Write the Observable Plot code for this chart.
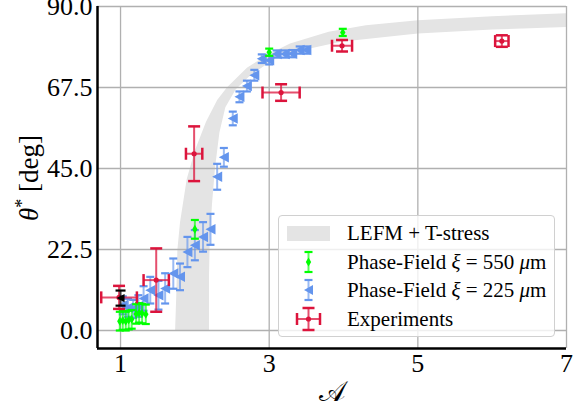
<!DOCTYPE html>
<html><head><meta charset="utf-8">
<script src="https://cdn.jsdelivr.net/npm/d3@7"></script>
<script src="https://cdn.jsdelivr.net/npm/@observablehq/plot@0.6"></script>
<style>
body{margin:0;background:#fff;}
#wrap{position:relative;width:578px;height:408px;font-family:"Liberation Serif",serif;}
#legend{position:absolute;left:278px;top:215px;width:277px;height:122px;border:1px solid #d0d0d0;border-radius:4px;background:rgba(255,255,255,0.8);box-sizing:border-box;}
.row{position:absolute;left:0;height:28px;display:flex;align-items:center;font-size:21px;color:#000;white-space:nowrap;}
.row svg{width:68px;height:28px;flex:none;}
.row span{margin-left:0;}
i{font-style:italic;}
</style></head><body><div id="wrap"></div>
<script>
// ---- data ----
const xTicks = [1, 3, 5, 7];
const yTicks = [0, 22.5, 45, 67.5, 90];
const xDomain = [0.69, 7];
const yDomain = [-5, 90];

// LEFM + T-stress band: upper (left) boundary and lower (right) boundary
const bandUpperA = [1.734, 1.75, 1.765, 1.80, 1.89, 2.0, 2.15, 2.3, 2.43, 2.7, 2.97, 3.28, 3.8, 4.3, 5.0, 6.0, 7.0];
const bandUpperT = [0, 10, 22.5, 30, 42, 50, 58, 64, 67.5, 73, 76.5, 79.7, 83.0, 84.8, 86.2, 87.3, 88.1];
const bandLowerA = [2.19, 2.19, 2.20, 2.23, 2.27, 2.33, 2.41, 2.55, 2.75, 3.15, 3.96, 5.0, 6.0, 7.0];
const bandLowerT = [0, 15, 25, 35, 45, 55, 62, 67, 71, 76.5, 80.2, 82.5, 83.6, 84.3];

// Experiments
const expA = [0.98, 1.48, 1.99, 3.16, 3.98, 6.13];
const expT = [9.2, 14.0, 49.1, 66.1, 79.1, 80.4];
const expXErr = [0.24, 0.17, 0.11, 0.25, 0.135, 0.09];
const expYErr = [3.2, 8.8, 7.6, 2.3, 1.6, 1.6];

// black reference point
const refA = [1.0];
const refT = [9.0];
const refErr = [2.1];

// Phase-Field xi = 550 um
const pf550A = [0.99, 1.03, 1.07, 1.11, 1.15, 1.21, 1.25, 1.29, 1.34, 2.0, 3.0, 3.99];
const pf550T = [2.6, 2.8, 2.6, 2.9, 3.1, 4.6, 4.9, 4.7, 4.5, 28.1, 77.3, 82.8];
const pf550Err = [2.6, 2.6, 2.6, 2.6, 2.6, 2.7, 2.7, 2.7, 2.7, 2.6, 1.0, 1.0];

// Phase-Field xi = 225 um
const pf225A = [1.03, 1.10, 1.17, 1.24, 1.31, 1.40, 1.51, 1.60, 1.71, 1.80, 1.90, 2.00, 2.11, 2.21, 2.30, 2.39, 2.51, 2.60, 2.70, 2.80, 2.90, 3.00, 3.10, 3.21, 3.31, 3.41, 3.50];
const pf225T = [7.0, 6.3, 6.0, 6.8, 8.9, 11.2, 9.8, 11.7, 15.8, 14.9, 21.8, 23.7, 26.0, 28.1, 42.7, 48.1, 58.9, 64.9, 67.9, 70.9, 75.5, 75.1, 76.8, 76.8, 76.9, 77.9, 77.9];
const pf225Err = [2.5, 2.5, 2.5, 3.0, 3.4, 3.7, 4.0, 4.2, 4.2, 3.7, 4.2, 4.2, 4.1, 4.3, 3.6, 2.6, 1.9, 1.5, 1.5, 1.5, 1.2, 1.2, 1.0, 1.0, 1.0, 1.0, 1.0];

// ---- build tables ----
const band = bandUpperA.map((a, i) => ({a, t: bandUpperT[i]}))
  .concat(bandLowerA.map((a, i) => ({a, t: bandLowerT[i]})).reverse());
const exp = expA.map((a, i) => ({a, t: expT[i], ex: expXErr[i], ey: expYErr[i]}));
const ref = refA.map((a, i) => ({a, t: refT[i], e: refErr[i]}));
const pf550 = pf550A.map((a, i) => ({a, t: pf550T[i], e: pf550Err[i]}));
const pf225 = pf225A.map((a, i) => ({a, t: pf225T[i], e: pf225Err[i]}));

// ---- custom symbols ----
const rr = s => Math.sqrt(s / Math.PI);
const hbar = {draw(c, s) { const r = rr(s); c.moveTo(-r, 0); c.lineTo(r, 0); }};
const vbar = {draw(c, s) { const r = rr(s); c.moveTo(0, -r); c.lineTo(0, r); }};
const triLeft = {draw(c, s) { const r = rr(s); c.moveTo(-r, 0); c.lineTo(r, -r * 1.05); c.lineTo(r, r * 1.05); c.closePath(); }};
const thinDiamond = {draw(c, s) { const r = rr(s); c.moveTo(0, -r); c.lineTo(r * 0.6, 0); c.lineTo(0, r); c.lineTo(-r * 0.6, 0); c.closePath(); }};

const BLUE = "#6495ed", GREEN = "#00ff00", RED = "#dc143c", BAND = "#e4e4e4", GRID = "#b0b0b0";

function vErr(data, color, capR, sym, symR, opts = {}) {
  return [
    Plot.ruleX(data, {x: "a", y1: d => d.t - d.e, y2: d => d.t + d.e, stroke: color, strokeWidth: 2, strokeOpacity: 0.65}),
    Plot.dot(data, {x: "a", y: d => d.t - d.e, symbol: hbar, r: capR, stroke: color, strokeWidth: 2.2}),
    Plot.dot(data, {x: "a", y: d => d.t + d.e, symbol: hbar, r: capR, stroke: color, strokeWidth: 2.2}),
    Plot.dot(data, {x: "a", y: "t", symbol: sym, r: symR, fill: color, stroke: "none", ...opts})
  ];
}

const chart = Plot.plot({
  width: 578, height: 408,
  marginLeft: 97, marginRight: 12, marginTop: 6, marginBottom: 60,
  x: {domain: xDomain},
  y: {domain: yDomain},
  style: {fontFamily: "'Liberation Serif', serif", background: "transparent", overflow: "visible"},
  marks: [
    Plot.line(band, {x: "a", y: "t", fill: BAND, stroke: "none", clip: true}),
    Plot.gridX(xTicks, {stroke: GRID, strokeOpacity: 1, strokeWidth: 1.3}),
    Plot.gridY(yTicks, {stroke: GRID, strokeOpacity: 1, strokeWidth: 1.3}),
    Plot.axisX(xTicks, {tickSize: 0, tickPadding: 5, fontSize: 26, fill: "#000", label: null}),
    Plot.axisY(yTicks, {tickSize: 0, tickPadding: 5, fontSize: 26, fill: "#000", label: null, tickFormat: d => d.toFixed(1)}),
    ...vErr(pf225, BLUE, 4, triLeft, 5),
    ...vErr(pf550, GREEN, 4, thinDiamond, 4.5),
    // experiments: horizontal + vertical error bars
    Plot.ruleY(exp, {y: "t", x1: d => d.a - d.ex, x2: d => d.a + d.ex, stroke: RED, strokeWidth: 2, strokeOpacity: 0.75}),
    Plot.ruleX(exp, {x: "a", y1: d => d.t - d.ey, y2: d => d.t + d.ey, stroke: RED, strokeWidth: 2, strokeOpacity: 0.75}),
    Plot.dot(exp, {x: d => d.a - d.ex, y: "t", symbol: vbar, r: 6, stroke: RED, strokeWidth: 2.5}),
    Plot.dot(exp, {x: d => d.a + d.ex, y: "t", symbol: vbar, r: 6, stroke: RED, strokeWidth: 2.5}),
    Plot.dot(exp, {x: "a", y: d => d.t - d.ey, symbol: hbar, r: 6, stroke: RED, strokeWidth: 2.5}),
    Plot.dot(exp, {x: "a", y: d => d.t + d.ey, symbol: hbar, r: 6, stroke: RED, strokeWidth: 2.5}),
    Plot.dot(exp, {x: "a", y: "t", r: 2.6, fill: RED, stroke: "none"}),
    // black point
    ...vErr(ref, "#000", 5, triLeft, 4),
    // axis lines (left & bottom)
    Plot.ruleX([xDomain[0]], {stroke: "#000", strokeWidth: 2.5}),
    Plot.ruleY([yDomain[0]], {stroke: "#000", strokeWidth: 2.5})
  ]
});

const wrap = document.getElementById("wrap");
wrap.appendChild(chart);

// axis titles
const svg = d3.select(chart);
const yl = svg.append("text")
  .attr("transform", "translate(38,178) rotate(-90)")
  .attr("text-anchor", "middle")
  .attr("font-size", 27).attr("fill", "#000")
  .attr("font-family", "'Liberation Serif', serif");
yl.append("tspan").attr("font-style", "italic").text("θ");
yl.append("tspan").attr("font-size", 18).attr("dy", -10).text("*");
yl.append("tspan").attr("dy", 10).text(" [deg]");
svg.append("text")
  .attr("x", 331.5).attr("y", 401)
  .attr("text-anchor", "middle")
  .attr("font-size", 28).attr("fill", "#000")
  .attr("font-family", "'DejaVu Serif', 'Liberation Serif', serif")
  .text("𝒜");

// legend
const lg = document.createElement("div");
lg.id = "legend";
lg.innerHTML = `
<div class="row" style="top:3px"><svg><rect x="8" y="7" width="43" height="15" fill="${BAND}"/></svg><span>LEFM + T-stress</span></div>
<div class="row" style="top:32px"><svg><line x1="29.5" x2="29.5" y1="4" y2="24" stroke="${GREEN}" stroke-width="2" stroke-opacity="0.65"/><line x1="25.5" x2="33.5" y1="4" y2="4" stroke="${GREEN}" stroke-width="2.2"/><line x1="25.5" x2="33.5" y1="24" y2="24" stroke="${GREEN}" stroke-width="2.2"/><path d="M29.5,9.5L32.2,14L29.5,18.5L26.8,14Z" fill="${GREEN}"/></svg><span>Phase-Field <i>ξ</i> = 550 <i>μ</i>m</span></div>
<div class="row" style="top:60px"><svg><line x1="29.5" x2="29.5" y1="4" y2="24" stroke="${BLUE}" stroke-width="2" stroke-opacity="0.65"/><line x1="25.5" x2="33.5" y1="4" y2="4" stroke="${BLUE}" stroke-width="2.2"/><line x1="25.5" x2="33.5" y1="24" y2="24" stroke="${BLUE}" stroke-width="2.2"/><path d="M25,14L34,9L34,19Z" fill="${BLUE}"/></svg><span>Phase-Field <i>ξ</i> = 225 <i>μ</i>m</span></div>
<div class="row" style="top:89px"><svg><line x1="18" x2="41" y1="14" y2="14" stroke="${RED}" stroke-width="2" stroke-opacity="0.75"/><line x1="29.5" x2="29.5" y1="3" y2="25" stroke="${RED}" stroke-width="2" stroke-opacity="0.75"/><line x1="18" x2="18" y1="8" y2="20" stroke="${RED}" stroke-width="2.5"/><line x1="41" x2="41" y1="8" y2="20" stroke="${RED}" stroke-width="2.5"/><line x1="23.5" x2="35.5" y1="3" y2="3" stroke="${RED}" stroke-width="2.5"/><line x1="23.5" x2="35.5" y1="25" y2="25" stroke="${RED}" stroke-width="2.5"/><circle cx="29.5" cy="14" r="2.6" fill="${RED}"/></svg><span>Experiments</span></div>`;
wrap.appendChild(lg);
</script></body></html>
